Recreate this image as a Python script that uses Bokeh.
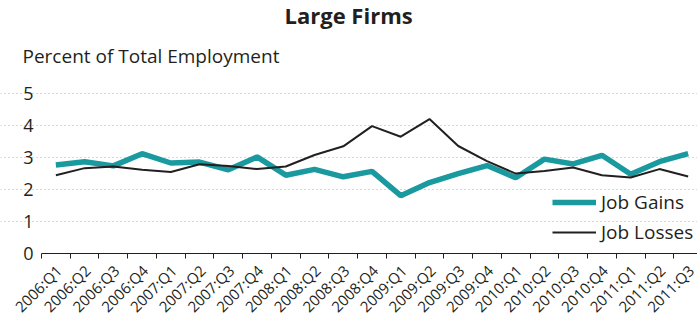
from math import pi
from bokeh.plotting import figure
from bokeh.core.properties import value
from bokeh.models import (ColumnDataSource, FixedTicker, Title, Legend, LegendItem,
                          Range1d, LabelSet, LinearAxis, Grid)
from bokeh.embed import file_html
from bokeh.resources import INLINE

quarters = ["2006:Q1", "2006:Q2", "2006:Q3", "2006:Q4",
            "2007:Q1", "2007:Q2", "2007:Q3", "2007:Q4",
            "2008:Q1", "2008:Q2", "2008:Q3", "2008:Q4",
            "2009:Q1", "2009:Q2", "2009:Q3", "2009:Q4",
            "2010:Q1", "2010:Q2", "2010:Q3", "2010:Q4",
            "2011:Q1", "2011:Q2", "2011:Q3"]
job_gains = [2.77, 2.87, 2.74, 3.12, 2.83, 2.86, 2.62, 3.02, 2.45, 2.63, 2.40, 2.57,
             1.81, 2.22, 2.50, 2.75, 2.37, 2.95, 2.80, 3.07, 2.48, 2.87, 3.12]
job_losses = [2.45, 2.67, 2.72, 2.62, 2.55, 2.79, 2.74, 2.64, 2.72, 3.08, 3.35, 3.98,
              3.65, 4.20, 3.36, 2.89, 2.50, 2.58, 2.69, 2.45, 2.38, 2.64, 2.41]
y_ticks = [0, 1, 2, 3, 4, 5]

FONT = "Open Sans"
TEAL = "#1a9a9f"
DARK = "#231f20"

n = len(quarters)
xs = [i + 0.5 for i in range(n)]
src = ColumnDataSource(dict(x=xs, gains=job_gains, losses=job_losses,
                            q=quarters, zero=[0] * n))
ysrc = ColumnDataSource(dict(x=[0] * len(y_ticks), y=y_ticks,
                             t=[str(t) for t in y_ticks]))

p = figure(width=697, height=315, output_backend="svg", toolbar_location=None,
           title=None, x_axis_type=None, y_axis_type=None,
           x_range=Range1d(-1.4266, 22.825), y_range=Range1d(-1.925, 5.34),
           min_border=0, min_border_left=0, min_border_right=0,
           min_border_top=0, min_border_bottom=0)
p.outline_line_color = None

# x axis line at value 0 with tick marks at the category boundaries
xa = LinearAxis(fixed_location=0, bounds=(0, n),
                ticker=FixedTicker(ticks=[], minor_ticks=list(range(n + 1))))
xa.minor_tick_out = 0
xa.minor_tick_in = 5
xa.minor_tick_line_color = DARK
xa.axis_line_color = DARK
p.add_layout(xa, "above")

sub = Title(text="Percent of Total Employment", align="left", offset=22,
            text_font=FONT, text_font_size="19px", text_font_style="normal",
            text_color=DARK, standoff=28)
p.add_layout(sub, "above")
ttl = Title(text="Large Firms", align="left", offset=284,
            text_font=FONT, text_font_size="22px", text_font_style="bold",
            text_color=DARK, standoff=-6)
p.add_layout(ttl, "above")

grid = Grid(dimension=1, ticker=FixedTicker(ticks=[t for t in y_ticks if t > 0]),
            bounds=(0, n), grid_line_color="#b0b0b0", grid_line_dash="1 3",
            grid_line_width=1.2)
p.add_layout(grid)

r1 = p.line("x", "gains", source=src, line_color=TEAL, line_width=5.5)
r2 = p.line("x", "losses", source=src, line_color=DARK, line_width=2)

xlabels = LabelSet(x="x", y="zero", text="q", source=src, angle=pi / 4,
                   text_align="right", text_baseline="middle",
                   x_offset=3, y_offset=-14,
                   text_font=value(FONT), text_font_size=value("15px"),
                   text_color=DARK)
p.add_layout(xlabels)

ylabels = LabelSet(x="x", y="y", text="t", source=ysrc,
                   text_align="right", text_baseline="middle", x_offset=-8,
                   text_font=value(FONT), text_font_size=value("18px"),
                   text_color=DARK)
p.add_layout(ylabels)

legend = Legend(items=[LegendItem(label="Job Gains", renderers=[r1]),
                       LegendItem(label="Job Losses", renderers=[r2])],
                location=(552, 70), orientation="vertical",
                background_fill_alpha=0, border_line_color=None,
                padding=0, margin=0, spacing=4,
                glyph_width=44, glyph_height=24, label_height=24,
                label_standoff=5,
                label_text_font=FONT, label_text_font_size="19px",
                label_text_color=DARK)
p.add_layout(legend, "center")

open("out.html", "w").write(file_html(p, INLINE))
